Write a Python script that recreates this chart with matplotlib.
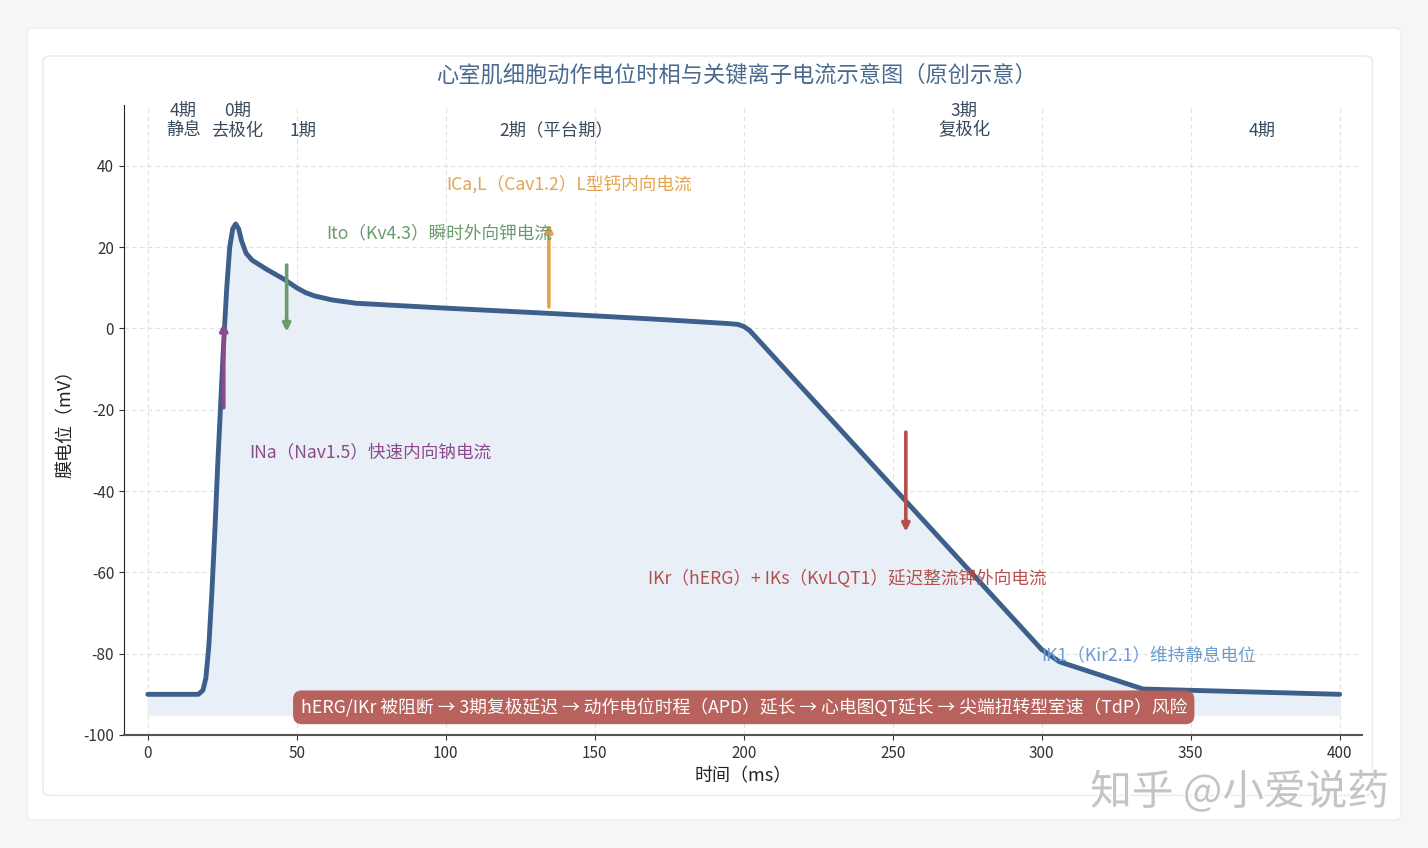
import matplotlib
matplotlib.use('Agg')
import matplotlib.pyplot as plt
from matplotlib.patches import FancyBboxPatch
import matplotlib.patheffects as pe

plt.rcParams['font.family'] = ['Noto Sans CJK SC', 'DejaVu Sans']
plt.rcParams['axes.unicode_minus'] = False

# action potential trace (ms, mV)
t_ms = [0, 17, 18.5, 19.5, 20.5, 21.5, 22.5, 23.5, 24.5, 25.5, 26.5, 27.5, 28.5,
        29.5, 30.5, 31.5, 33, 35, 40, 46, 50, 53, 56, 62, 70, 100, 135, 170,
        195, 198, 200, 202, 300, 306, 334, 400]
v_mv = [-90, -90, -89, -86, -78, -65, -50, -33, -18, -3, 10, 20, 24.5,
        25.7, 24.5, 21.5, 18.5, 16.8, 14.5, 12, 10, 8.8, 8, 7, 6.2, 5, 3.7, 2.3,
        1.2, 1, 0.5, -0.5, -79, -82, -88.7, -90]

# phase labels
phase_x = [12, 30, 52, 137, 274, 374]
phase_txt = ['4期\n静息', '0期\n去极化', '1期', '2期（平台期）', '3期\n复极化', '4期']

# ion current arrows: x, start, end
cur_x = [25.5, 46.6, 134.6, 254.4]
cur_y0 = [-19.5, 15.6, 5.3, -25.5]
cur_y1 = [1.4, -0.8, 25.7, -50]
cur_col = ['#8b4a8b', '#6b9a6b', '#e2a452', '#b5504d']

# current labels
lab_txt = ['INa（Nav1.5）快速内向钠电流', 'Ito（Kv4.3）瞬时外向钾电流',
           'ICa,L（Cav1.2）L型钙内向电流', 'IKr（hERG）+ IKs（KvLQT1）延迟整流钾外向电流',
           'IK1（Kir2.1）维持静息电位']
lab_x = [34, 60, 100, 168, 300]
lab_y = [-30.5, 23.5, 35.5, -61.5, -80.5]
lab_col = ['#8b4a8b', '#6b9a6b', '#e2a452', '#b5504d', '#6b9bd0']

banner = 'hERG/IKr 被阻断 → 3期复极延迟 → 动作电位时程（APD）延长 → 心电图QT延长 → 尖端扭转型室速（TdP）风险'

fig = plt.figure(figsize=(14.28, 8.48), dpi=100)
fig.patch.set_facecolor('#f6f6f6')

# card backgrounds
fig.patches.append(FancyBboxPatch((0.019, 0.033), 0.962, 0.934, boxstyle='round,pad=0,rounding_size=0.005',
                                  transform=fig.transFigure, facecolor='white', edgecolor='#eeeeee', lw=1, zorder=-10))
fig.patches.append(FancyBboxPatch((0.030, 0.062), 0.931, 0.872, boxstyle='round,pad=0,rounding_size=0.006',
                                  transform=fig.transFigure, facecolor='white', edgecolor='#ececec', lw=1.2, zorder=-10))

ax = fig.add_axes([0.0868, 0.1333, 0.867, 0.743])
ax.set_facecolor('none')
ax.set_zorder(2)

ax.fill_between(t_ms, v_mv, -95, color='#e9eff7', zorder=1)
ax.plot(t_ms, v_mv, color='#3c5f8c', lw=3.5, solid_capstyle='round', solid_joinstyle='round', zorder=4)

for x, y0, y1, c in zip(cur_x, cur_y0, cur_y1, cur_col):
    ax.annotate('', xy=(x, y1), xytext=(x, y0),
                arrowprops=dict(arrowstyle='-|>', color=c, lw=2.6, mutation_scale=11,
                                shrinkA=0, shrinkB=0), zorder=5)

for txt, x, y, c in zip(lab_txt, lab_x, lab_y, lab_col):
    ax.text(x, y, txt, color=c, fontsize=12.7, ha='left', va='center', zorder=6)

for x, txt in zip(phase_x, phase_txt):
    ax.text(x, 46.5, txt, color='#3a4a5e', fontsize=12.5, ha='center', va='bottom',
            linespacing=1.12, zorder=6)

ax.text(200, -93.2, banner, color='white', fontsize=12.8, ha='center', va='center', zorder=7,
        bbox=dict(boxstyle='round,pad=0.42,rounding_size=0.5', facecolor='#b65a55',
                  edgecolor='none', alpha=0.95))

ax.set_xlim(-8, 407.5)
ax.set_ylim(-100, 55)
ax.set_xticks(range(0, 401, 50))
ax.set_yticks(range(-100, 41, 20))
ax.grid(True, color='#dddddd', ls=(0, (4, 3)), lw=0.8, alpha=0.9)
ax.set_axisbelow(True)
ax.spines['top'].set_visible(False)
ax.spines['right'].set_visible(False)
ax.spines['left'].set_color('#222222')
ax.spines['bottom'].set_color('#555555')
ax.spines['bottom'].set_linewidth(1.5)
ax.tick_params(labelsize=11, colors='#333333')
ax.set_xlabel('时间（ms）', fontsize=13, color='#222222', labelpad=4)
ax.set_ylabel('膜电位（mV）', fontsize=13, color='#222222', labelpad=6)

fig.text(0.5155, 0.911, '心室肌细胞动作电位时相与关键离子电流示意图（原创示意）',
         fontsize=16, color='#4a6b8f', ha='center', va='center')

fig.text(0.868, 0.066, '知乎 @小爱说药', fontsize=30, color='#c4c4c4', ha='center', va='center',
         zorder=10, path_effects=[pe.withStroke(linewidth=2, foreground='white')])

fig.savefig('out.png', dpi=100, facecolor=fig.get_facecolor())
